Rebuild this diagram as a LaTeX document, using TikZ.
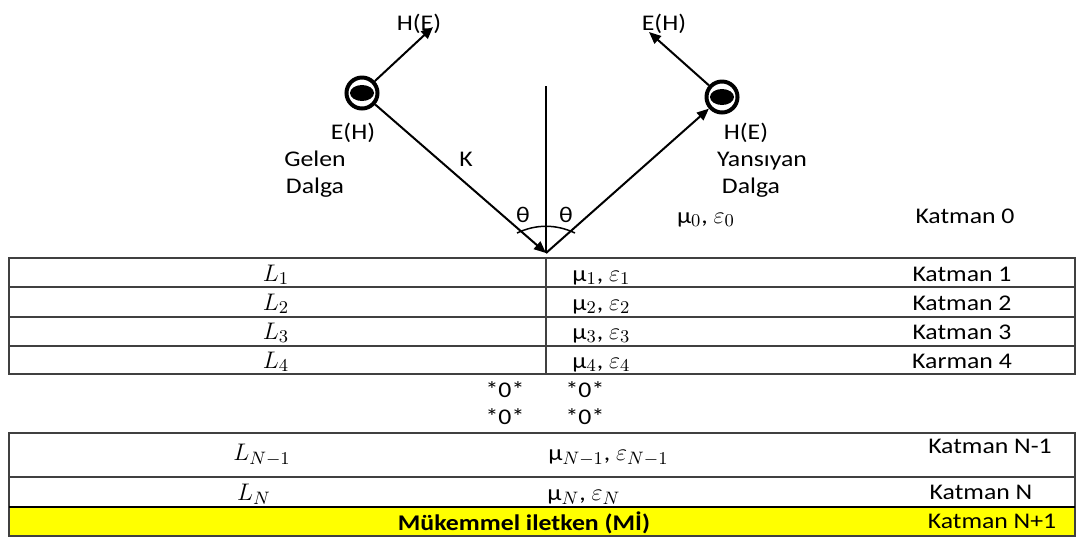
\documentclass[tikz,border=0pt]{standalone}
\usepackage{fontspec}
\setmainfont{Carlito}[FakeStretch=1.15]
\usetikzlibrary{arrows.meta,shapes.geometric}
\definecolor{iletken}{RGB}{255,255,0}
\newcommand{\mbuyuk}[1]{{\fontsize{13}{15}\selectfont$#1$}}

\begin{document}
\begin{tikzpicture}[
	x=0.5pt, y=-0.5pt,
	font=\fontsize{11.2}{13}\selectfont,
	>={Triangle[length=6pt,width=5pt]},
	halka/.style={circle, draw, line width=2pt, minimum size=15.5pt, inner sep=0pt, path picture={\fill (path picture bounding box.center) ellipse (6pt and 4pt);}},
	etiket/.style={anchor=base, inner sep=0pt},
	sol/.style={anchor=base west, inner sep=0pt},
	dalga/.style={->, line width=1pt},
	cizgi/.style={draw=black!75, line width=0.75pt},
]
\useasboundingbox (0,0) rectangle (1085,538);

% gelen ve yansiyan dalga
\node[halka] (gelen) at (362,93) {};
\node[halka] (yans) at (722,97) {};
\coordinate (O) at (546,253);
\coordinate (N) at (546,86);
\coordinate (hg) at (433,27);
\coordinate (ey) at (649,32);
\draw[dalga] (gelen) -- (hg);
\draw[dalga] (yans) -- (ey);
\draw[dalga] (gelen) -- (O);
\draw[dalga] (O) -- (yans);
\draw[line width=0.75pt] (N) -- (O);
\draw[line width=0.75pt] (517,233) .. controls (536,224) and (556,224) .. (575,233);

\node[etiket] (hgl) at (419,30) {H(E)};
\node[etiket] (eyl) at (664,30) {E(H)};
\node[etiket] (egl) at (353,139) {E(H)};
\node[etiket] (gel) at (315,166) {Gelen};
\node[etiket] (gdl) at (315,193) {Dalga};
\node[etiket] (k) at (466,166) {K};
\node[etiket] (hyl) at (746,139) {H(E)};
\node[etiket] (yan) at (762,166) {Yansıyan};
\node[etiket] (ydl) at (751,193) {Dalga};
\node[etiket] (t1) at (523,222) {θ};
\node[etiket] (t2) at (566,222) {θ};
\node[etiket] (m0) at (706,223) {μ\mbuyuk{_0}, \mbuyuk{\varepsilon_0}};
\node[etiket] (k0) at (965,223) {Katman 0};

% katmanlar
\draw[cizgi] (9,258) rectangle (1075,374);
\foreach \y in {287,317,346} \draw[cizgi] (9,\y) -- (1075,\y);
\draw[cizgi] (546,258) -- (546,374);
\foreach \i/\y/\k in {1/281/Katman 1, 2/310/Katman 2, 3/339/Katman 3, 4/368/Karman 4} {
	\node[etiket] (L\i) at (276,\y) {\mbuyuk{L_\i}};
	\node[sol] (m\i) at (572,\y) {μ\mbuyuk{_\i}, \mbuyuk{\varepsilon_\i}};
	\node[etiket] (k\i) at (962,\y) {\k};
}
\node[etiket] (s1) at (505,397) {*0*};
\node[etiket] (s2) at (585,397) {*0*};
\node[etiket] (s3) at (505,424) {*0*};
\node[etiket] (s4) at (585,424) {*0*};

\fill[iletken] (9,507) rectangle (1075,536);
\draw[cizgi] (9,433) rectangle (1075,536);
\draw[cizgi] (9,477) -- (1075,477);
\draw[line width=0.75pt] (9,507) -- (1075,507);
\node[etiket] (Ln1) at (262,460) {\mbuyuk{L_{N-1}}};
\node[sol] (mn1) at (548,460) {μ\mbuyuk{_{N-1}}, \mbuyuk{\varepsilon_{N-1}}};
\node[etiket] (kn1) at (990,453) {Katman N-1};
\node[etiket] (Ln) at (254,500) {\mbuyuk{L_N}};
\node[sol] (mn) at (547,500) {μ\mbuyuk{_N}, \mbuyuk{\varepsilon_N}};
\node[etiket] (kn) at (981,499) {Katman N};
\node[etiket] (mi) at (524,530) {\textbf{Mükemmel iletken (Mİ)}};
\node[etiket] (kn2) at (992,528) {Katman N+1};
\end{tikzpicture}
\end{document}
